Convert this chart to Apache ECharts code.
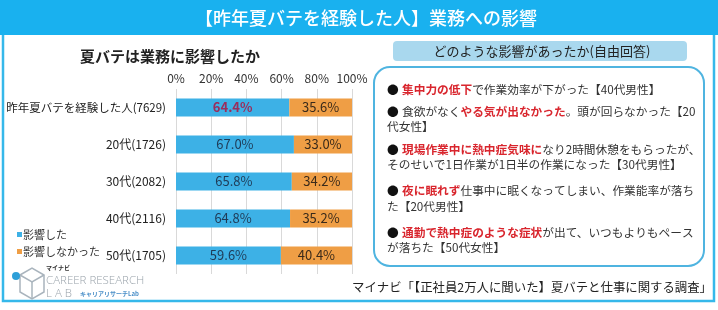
<!DOCTYPE html>
<html>
<head>
<meta charset="utf-8">
<script src="https://cdn.jsdelivr.net/npm/echarts@6/dist/echarts.min.js"></script>
<style>
  html, body { margin: 0; padding: 0; background: #fff; }
  #chart { width: 718px; height: 310px; }
</style>
</head>
<body>
<div id="chart"></div>
<script>
// data
const categories = ['昨年夏バテを経験した人(7629)', '20代(1726)', '30代(2082)', '40代(2116)', '50代(1705)'];
const affected = [64.4, 67.0, 65.8, 64.8, 59.6];
const notAffected = [35.6, 33.0, 34.2, 35.2, 40.4];
const seriesNames = ['影響した', '影響しなかった'];
const tickLabels = ['0%', '20%', '40%', '60%', '80%', '100%'];

const FONT = '"Noto Sans CJK JP", sans-serif';
const BLUE = '#3db1e6';
const ORANGE = '#ef9e45';
const RED = '#d9262e';
const TXT = '#333';

// comment lines: [red part, rest] and optional second line
const comments = [
  [[['r', '集中力の低下'], ['n', 'で作業効率が下がった【40代男性】']]],
  [[['n', '食欲がなく'], ['r', 'やる気が出なかった'], ['n', '。頭が回らなかった【20']], '代女性】'],
  [[['r', '現場作業中に熱中症気味に'], ['n', 'なり2時間休憩をもらったが、']], 'そのせいで1日作業が1日半の作業になった【30代男性】'],
  [[['r', '夜に眠れず'], ['n', '仕事中に眠くなってしまい、作業能率が落ち']], 'た【20代男性】'],
  [[['r', '通勤で熱中症のような症状'], ['n', 'が出て、いつもよりもペース']], 'が落ちた【50代女性】']
];

const chart = echarts.init(document.getElementById('chart'), null, { renderer: 'canvas' });

const graphics = [
  // outer frame
  { type: 'rect', shape: { x: 3, y: 2, width: 711, height: 299 }, style: { fill: 'none', stroke: '#35b8ea', lineWidth: 2.5 } },
  // title bar
  { type: 'rect', shape: { x: 0, y: 0, width: 718, height: 35 }, style: { fill: '#19b1ef' } },
  { type: 'text', x: 366, y: 18, style: { text: '【昨年夏バテを経験した人】業務への影響', fill: '#fff', font: '500 18px ' + FONT, align: 'center', verticalAlign: 'middle' } },
  // chart subtitle
  { type: 'text', x: 170, y: 56, style: { text: '夏バテは業務に影響したか', fill: '#222', font: 'bold 15px ' + FONT, align: 'center', verticalAlign: 'middle' } },
  // right header
  { type: 'rect', shape: { x: 393, y: 41, width: 294, height: 20, r: 4 }, style: { fill: '#a9d8ee' } },
  { type: 'text', x: 542, y: 51, style: { text: 'どのような影響があったか(自由回答)', fill: '#222', font: '13px ' + FONT, align: 'center', verticalAlign: 'middle' } },
  // comment box
  { type: 'rect', shape: { x: 374, y: 67, width: 330, height: 199, r: 16 }, style: { fill: '#fff', stroke: '#4fb4e0', lineWidth: 2 } },
  // footer
  { type: 'text', x: 712, y: 287, style: { text: 'マイナビ「【正社員2万人に聞いた】夏バテと仕事に関する調査」', fill: '#222', font: '12.4px ' + FONT, align: 'right', verticalAlign: 'middle' } },
  // logo
  { type: 'polygon', shape: { points: [[20, 275], [32, 268], [44, 275], [44, 292], [32, 299], [20, 292]] }, style: { fill: 'none', stroke: '#a9b4bd', lineWidth: 1.5 } },
  { type: 'polyline', shape: { points: [[20, 275], [32, 282], [44, 275]] }, style: { fill: 'none', stroke: '#a9b4bd', lineWidth: 1.5 } },
  { type: 'line', shape: { x1: 32, y1: 282, x2: 32, y2: 299 }, style: { stroke: '#a9b4bd', lineWidth: 1.5 } },
  { type: 'circle', shape: { cx: 16, cy: 276, r: 4 }, style: { fill: '#2d9fd8' } },
  { type: 'text', x: 46, y: 268, style: { text: 'マイナビ', fill: '#333', font: 'bold 6px ' + FONT, verticalAlign: 'middle' } },
  { type: 'text', x: 46, y: 281, style: { text: 'CAREER RESEARCH', fill: '#9aa3ab', font: '300 11.5px "Open Sans", sans-serif', verticalAlign: 'middle' } },
  { type: 'text', x: 46, y: 294, style: { text: 'L A B', fill: '#9aa3ab', font: '300 11.5px "Open Sans", sans-serif', verticalAlign: 'middle' } },
  { type: 'text', x: 80, y: 294, style: { text: 'キャリアリサーチLab', fill: '#4a8fc8', font: 'bold 6px ' + FONT, verticalAlign: 'middle' } }
];

const lineY = [[90], [112, 127], [150, 165], [191, 207], [233, 248]];
comments.forEach((c, i) => {
  const parts = c[0].map(p => '{' + p[0] + '|' + p[1] + '}').join('');
  graphics.push({
    type: 'text', x: 387, y: lineY[i][0],
    style: {
      text: '{b|●} ' + parts,
      verticalAlign: 'middle',
      rich: {
        b: { fill: '#111', font: '11.7px ' + FONT },
        n: { fill: TXT, font: '11.7px ' + FONT },
        r: { fill: RED, font: 'bold 11.7px ' + FONT }
      }
    }
  });
  if (c[1]) {
    graphics.push({ type: 'text', x: 387, y: lineY[i][1], style: { text: c[1], fill: TXT, font: '11.7px ' + FONT, verticalAlign: 'middle' } });
  }
});

const option = {
  animation: false,
  textStyle: { fontFamily: FONT },
  grid: { left: 176, right: 366, top: 89, height: 185, outerBoundsMode: 'none', containLabel: false },
  legend: {
    orient: 'vertical', left: 12, top: 224, itemGap: 6,
    itemWidth: 5, itemHeight: 5, icon: 'rect',
    textStyle: { fontSize: 11, color: '#333', padding: [0, 0, 0, -4] },
    data: seriesNames
  },
  xAxis: {
    type: 'value', position: 'top', min: 0, max: 100, interval: 20,
    axisLine: { show: false }, axisTick: { show: false },
    axisLabel: { color: '#333', fontSize: 12, margin: 5, formatter: v => tickLabels[v / 20] },
    splitLine: { lineStyle: { color: '#d9d9d9' } }
  },
  yAxis: {
    type: 'category', inverse: true, data: categories,
    axisLine: { show: false }, axisTick: { show: false },
    axisLabel: { color: '#222', fontSize: 12, margin: 10, formatter: v => v === categories[0] ? '{s|' + v + '}' : v, rich: { s: { fontSize: 11.5, color: '#222' } } }
  },
  series: [
    {
      name: seriesNames[0], type: 'bar', stack: 'a', data: affected, barWidth: 18,
      itemStyle: { color: BLUE },
      label: {
        show: true, position: 'inside', fontSize: 13,
        formatter: p => '{' + (p.dataIndex === 0 ? 'h' : 'n') + '|' + p.value.toFixed(1) + '%}',
        rich: { h: { color: '#9a2d5c', fontSize: 13, fontWeight: 'bold' }, n: { color: '#1f3b57', fontSize: 13 } }
      }
    },
    {
      name: seriesNames[1], type: 'bar', stack: 'a', data: notAffected, barWidth: 18,
      itemStyle: { color: ORANGE },
      label: { show: true, position: 'inside', color: '#3a2a1a', fontSize: 13, formatter: p => p.value.toFixed(1) + '%' }
    }
  ],
  graphic: graphics
};

chart.setOption(option);
</script>
</body>
</html>
